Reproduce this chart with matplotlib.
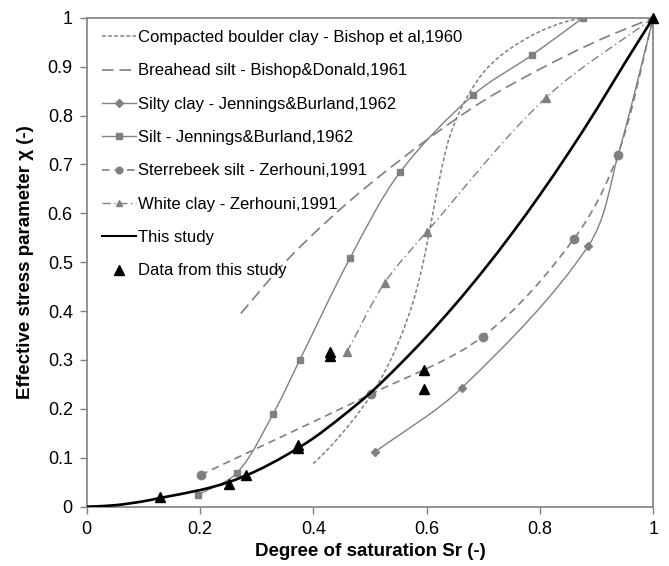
import numpy as np
import matplotlib.pyplot as plt
from matplotlib.path import Path
from matplotlib.patches import PathPatch
from matplotlib.lines import Line2D

plt.rcParams['font.family'] = ['Liberation Sans', 'DejaVu Sans']

# data
boulder_x = [0.40, 0.43, 0.465, 0.50, 0.53, 0.555, 0.575, 0.59, 0.60, 0.61, 0.62,
             0.63, 0.64, 0.655, 0.675, 0.70, 0.73, 0.765, 0.80, 0.84, 0.876]
boulder_y = [0.088, 0.123, 0.17, 0.225, 0.285, 0.35, 0.415, 0.48, 0.535, 0.595, 0.655,
             0.71, 0.755, 0.80, 0.845, 0.888, 0.922, 0.95, 0.972, 0.99, 1.0]

breahead_x = [0.272, 0.35, 0.43, 0.50, 0.60, 0.70, 0.80, 0.90, 1.0]
breahead_y = [0.395, 0.50, 0.59, 0.66, 0.75, 0.83, 0.895, 0.952, 1.0]

siltyclay_x = [0.509, 0.662, 0.885, 0.938, 1.0]
siltyclay_y = [0.112, 0.243, 0.533, 0.72, 1.0]

silt_x = [0.196, 0.265, 0.329, 0.376, 0.465, 0.553, 0.681, 0.785, 0.876]
silt_y = [0.024, 0.069, 0.19, 0.30, 0.509, 0.684, 0.841, 0.923, 1.0]

sterrebeek_x = [0.201, 0.501, 0.699, 0.86, 0.937, 1.0]
sterrebeek_y = [0.065, 0.23, 0.348, 0.548, 0.719, 1.0]

white_x = [0.459, 0.526, 0.60, 0.81, 1.0]
white_y = [0.316, 0.458, 0.562, 0.836, 1.0]

study_x = [0, 0.05, 0.1, 0.13, 0.2, 0.25, 0.3, 0.35, 0.4, 0.45, 0.5, 0.55, 0.6,
           0.65, 0.7, 0.75, 0.8, 0.85, 0.9, 0.95, 1.0]
study_y = [0, 0.003, 0.011, 0.018, 0.034, 0.05, 0.0735, 0.104, 0.14, 0.184, 0.232,
           0.288, 0.348, 0.413, 0.483, 0.558, 0.638, 0.723, 0.813, 0.908, 1.0]

data_x = [0.129, 0.251, 0.281, 0.373, 0.373, 0.429, 0.429, 0.596, 0.596, 1.0]
data_y = [0.02, 0.046, 0.065, 0.12, 0.126, 0.308, 0.316, 0.28, 0.24, 1.0]

labels = ['Compacted boulder clay - Bishop et al,1960',
          'Breahead silt - Bishop&Donald,1961',
          'Silty clay - Jennings&Burland,1962',
          'Silt - Jennings&Burland,1962',
          'Sterrebeek silt - Zerhouni,1991',
          'White clay - Zerhouni,1991',
          'This study',
          'Data from this study']

grey = '#808080'


def smooth_path(xs, ys):
    # smoothed line like excel: cubic bezier, chord-length tangents
    p = np.column_stack([xs, ys]).astype(float)
    n = len(p)
    d = np.hypot(*np.diff(p, axis=0).T)
    tang = np.zeros_like(p)
    for i in range(n):
        if i == 0:
            tang[i] = (p[1] - p[0]) / d[0]
        elif i == n - 1:
            tang[i] = (p[-1] - p[-2]) / d[-1]
        else:
            tang[i] = (p[i + 1] - p[i - 1]) / (d[i - 1] + d[i])
    verts = [p[0]]
    codes = [Path.MOVETO]
    for i in range(n - 1):
        c1 = p[i] + tang[i] * d[i] / 3.0
        c2 = p[i + 1] - tang[i + 1] * d[i] / 3.0
        verts += [c1, c2, p[i + 1]]
        codes += [Path.CURVE4] * 3
    return Path(verts, codes)


fig, ax = plt.subplots(figsize=(6.69, 5.66), dpi=100)
fig.subplots_adjust(left=0.1296, right=0.9766, bottom=0.1048, top=0.9687)

series = [
    (boulder_x, boulder_y, (0, (2.5, 1.5)), None, 1.1),
    (breahead_x, breahead_y, (0, (7, 3.5)), None, 1.2),
    (siltyclay_x, siltyclay_y, '-', 'D', 1.0),
    (silt_x, silt_y, '-', 's', 1.0),
    (sterrebeek_x, sterrebeek_y, (0, (4.5, 3)), 'o', 1.2),
    (white_x, white_y, (0, (6, 2.5, 1, 2.5)), '^', 1.0),
]
msizes = {'D': 4.5, 's': 5, 'o': 6, '^': 5.5}

handles = []
for xs, ys, ls, mk, lw in series:
    ax.add_patch(PathPatch(smooth_path(xs, ys), fill=False, edgecolor=grey,
                           linewidth=lw, linestyle=ls, zorder=2))
    if mk is not None:
        ax.plot(xs, ys, linestyle='none', marker=mk, color=grey,
                markersize=msizes[mk], zorder=3)
    handles.append(Line2D([], [], color=grey, linestyle=ls, linewidth=lw,
                          marker=mk, markersize=msizes.get(mk, 0) * 0.8))

ax.add_patch(PathPatch(smooth_path(study_x, study_y), fill=False, edgecolor='black',
                       linewidth=1.9, zorder=4))
handles.append(Line2D([], [], color='black', linewidth=1.5))

ax.plot(data_x, data_y, linestyle='none', marker='^', color='black',
        markersize=7.5, zorder=5, clip_on=False)
handles.append(Line2D([], [], linestyle='none', marker='^', color='black', markersize=7))

ax.set_xlim(0, 1)
ax.set_ylim(0, 1)
ax.set_xticks(np.arange(0, 1.01, 0.2))
ax.set_xticklabels(['0', '0.2', '0.4', '0.6', '0.8', '1'])
ax.set_yticks(np.arange(0, 1.01, 0.1))
ax.set_yticklabels(['0', '0.1', '0.2', '0.3', '0.4', '0.5', '0.6', '0.7', '0.8', '0.9', '1'])
ax.tick_params(axis='both', direction='out', length=5, width=1, color=grey,
               labelsize=13, pad=5)
for s in ax.spines.values():
    s.set_color(grey)
    s.set_linewidth(1.2)

ax.set_xlabel('Degree of saturation Sr (-)', fontsize=13.5, fontweight='bold', labelpad=4)
ax.set_ylabel('Effective stress parameter \u03c7 (-)', fontsize=13.5, fontweight='bold', labelpad=10)

ax.legend(handles, labels, loc='upper left', bbox_to_anchor=(0.01, 0.995),
          frameon=False, fontsize=12, handlelength=2.0, handletextpad=0.15,
          labelspacing=1.1, borderaxespad=0.2)

fig.savefig('out.png', dpi=100)
